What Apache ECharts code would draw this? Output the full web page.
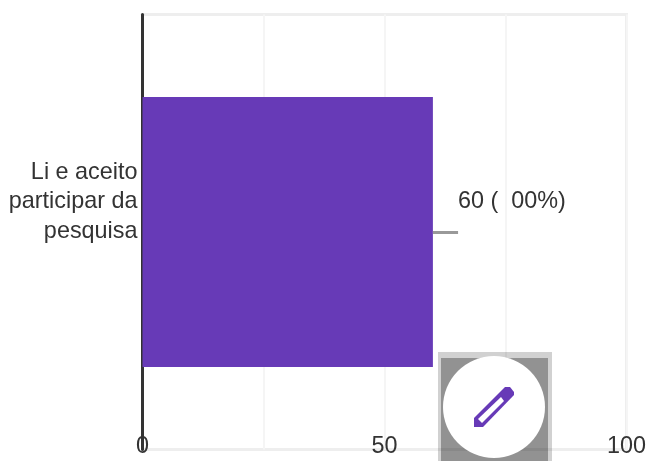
<!DOCTYPE html>
<html>
<head>
<meta charset="utf-8">
<style>html,body{margin:0;padding:0;background:#fff}#chart{width:646px;height:461px}</style>
<script src="https://cdn.jsdelivr.net/npm/echarts@6/dist/echarts.min.js"></script>
</head>
<body>
<div id="chart"></div>
<script>
const categoryLines = ['Li e aceito', 'participar da', 'pesquisa'];
const categories = [categoryLines.join(' ')];
const responses = [60];
const valueLabels = ['60 (  00%)'];
const xTickLabels = { 0: '0', 50: '50', 100: '100' };
const leaderEnd = 65.2;

const textColor = '#333333';
const purple = '#673ab7';
const font = 'Liberation Sans, Arial, sans-serif';
const fontSize = 23.4;

const chart = echarts.init(document.getElementById('chart'), null, { renderer: 'canvas' });

chart.setOption({
  animation: false,
  backgroundColor: '#ffffff',
  grid: {
    left: 142.5, right: 19.5, top: 14.5, bottom: 11.5,
    outerBoundsMode: 'none',
    show: true, borderColor: '#eeeeee', borderWidth: 3, backgroundColor: 'transparent'
  },
  xAxis: {
    type: 'value', min: 0, max: 100, interval: 25,
    axisLine: { show: false },
    axisTick: { show: false },
    splitLine: { show: true, lineStyle: { color: '#f5f5f5', width: 2 } },
    axisLabel: {
      color: textColor, fontFamily: font, fontSize: fontSize,
      margin: -14, hideOverlap: false, showMinLabel: true, showMaxLabel: true,
      formatter: v => xTickLabels[v] || ''
    }
  },
  yAxis: {
    type: 'category', data: categories,
    axisLine: { show: true, lineStyle: { color: '#333333', width: 3 } },
    axisTick: { show: false },
    axisLabel: {
      align: 'right', margin: 5,
      // the trailing spacer line lifts the three text lines above the bar's centre
      formatter: () => categoryLines.map(l => '{line|' + l + '}').join('\n') + '\n{spacer| }',
      rich: {
        line: { color: textColor, fontFamily: font, fontSize: fontSize, lineHeight: 29.5, align: 'right' },
        spacer: { fontSize: 10, lineHeight: 60 }
      }
    }
  },
  series: [{
    type: 'bar',
    data: responses,
    barWidth: 270,
    itemStyle: { color: purple },
    label: {
      show: true, position: 'right', distance: 0, offset: [25, -30],
      color: textColor, fontFamily: font, fontSize: fontSize,
      formatter: p => valueLabels[p.dataIndex]
    },
    markLine: {
      silent: true, symbol: 'none', animation: false,
      label: { show: false },
      lineStyle: { color: '#999999', width: 3, type: 'solid' },
      data: [[
        { coord: [responses[0], categories[0]] },
        { coord: [leaderEnd, categories[0]] }
      ]]
    }
  }],
  graphic: [
    { type: 'rect', z: 100, shape: { x: 438, y: 352, width: 114, height: 112 },
      style: { fill: 'rgba(0,0,0,0.18)' } },
    { type: 'rect', z: 101, shape: { x: 441, y: 358, width: 107, height: 106 },
      style: { fill: 'rgba(0,0,0,0.3)' } },
    { type: 'circle', z: 102, shape: { cx: 494, cy: 407, r: 51 },
      style: { fill: '#ffffff' } },
    { type: 'polygon', z: 103,
      shape: { points: [[474, 427], [474, 418], [505, 387], [510, 387], [514, 392], [514, 395], [483, 427]] },
      style: { fill: purple } },
    { type: 'polygon', z: 104,
      shape: { points: [[478, 419], [501, 397], [504, 401], [482, 423]] },
      style: { fill: '#ffffff' } }
  ]
});
</script>
</body>
</html>
